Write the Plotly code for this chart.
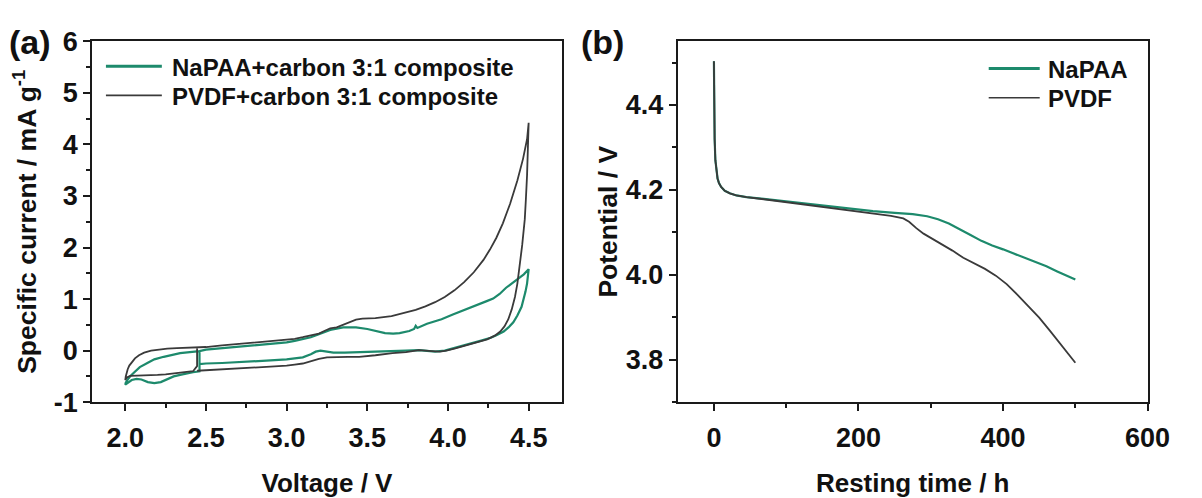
import plotly.graph_objects as go

# ---------------- Panel (a): cyclic voltammetry ----------------
V_napaa = [2.46, 2.46, 2.42, 2.38, 2.34, 2.3, 2.26, 2.22, 2.18, 2.14, 2.10, 2.07, 2.04, 2.02, 2.0,
           2.003, 2.01, 2.02, 2.035, 2.06, 2.09, 2.137, 2.18, 2.238, 2.29, 2.34, 2.4, 2.46,
           2.5, 2.6, 2.7, 2.8, 2.9, 3.0, 3.05, 3.1, 3.15, 3.2, 3.27, 3.35, 3.43, 3.5, 3.56,
           3.61, 3.66, 3.7, 3.76, 3.79, 3.80, 3.81, 3.87, 3.96, 4.03, 4.1, 4.15, 4.2, 4.24, 4.28,
           4.32, 4.36, 4.4, 4.44, 4.47, 4.5,
           4.497, 4.49, 4.48, 4.472, 4.456, 4.43, 4.405, 4.375, 4.345, 4.3, 4.265, 4.2, 4.15, 4.1,
           4.04, 3.98, 3.92, 3.86, 3.82, 3.74, 3.66, 3.55, 3.45, 3.36, 3.29, 3.25, 3.21, 3.18, 3.15,
           3.1, 3.05, 3.0, 2.9, 2.8, 2.7, 2.6, 2.5, 2.46]
I_napaa = [0.0, -0.40, -0.42, -0.44, -0.47, -0.50, -0.56, -0.61, -0.63, -0.61, -0.56, -0.55, -0.57, -0.61, -0.66,
           -0.62, -0.58, -0.54, -0.48, -0.40, -0.32, -0.24, -0.17, -0.12, -0.08, -0.05, -0.03, -0.01,
           0.02, 0.05, 0.08, 0.11, 0.13, 0.16, 0.19, 0.22, 0.26, 0.32, 0.40, 0.45, 0.45, 0.42, 0.37,
           0.34, 0.33, 0.34, 0.38, 0.42, 0.48, 0.44, 0.52, 0.61, 0.70, 0.79, 0.86, 0.92, 0.96, 1.01,
           1.10, 1.22, 1.31, 1.40, 1.48, 1.58,
           1.45, 1.30, 1.14, 1.02, 0.85, 0.68, 0.55, 0.45, 0.37, 0.30, 0.25, 0.19, 0.15, 0.11,
           0.05, 0.0, -0.02, 0.0, 0.01, 0.0, -0.01, -0.03, -0.03, -0.04, -0.04, -0.02, 0.0, -0.02, -0.07,
           -0.13, -0.15, -0.17, -0.19, -0.21, -0.22, -0.24, -0.25, -0.26]

V_pvdf = [2.445, 2.445, 2.42, 2.35, 2.3, 2.25, 2.2, 2.15, 2.1, 2.06, 2.03, 2.01, 2.0,
          2.003, 2.008, 2.015, 2.025, 2.04, 2.06, 2.085, 2.117, 2.16, 2.2, 2.26, 2.32, 2.38, 2.44,
          2.5, 2.6, 2.7, 2.8, 2.9, 3.0, 3.05, 3.1, 3.15, 3.2, 3.24, 3.27, 3.31, 3.35, 3.39, 3.43,
          3.47, 3.55, 3.65, 3.72, 3.8, 3.86, 3.92, 3.98, 4.04, 4.1, 4.16, 4.22, 4.26, 4.3, 4.34,
          4.385, 4.43, 4.465, 4.49, 4.5,
          4.498, 4.495, 4.49, 4.483, 4.476, 4.46, 4.445, 4.43, 4.415, 4.395, 4.374, 4.35, 4.324,
          4.29, 4.243, 4.19, 4.14, 4.09, 4.04, 3.99, 3.95, 3.9, 3.82, 3.74, 3.656, 3.55, 3.45,
          3.38, 3.31, 3.25, 3.2, 3.17, 3.13, 3.1, 3.05, 3.0, 2.9, 2.8, 2.7, 2.6, 2.5, 2.445]
I_pvdf = [0.06, -0.30, -0.40, -0.43, -0.45, -0.46, -0.47, -0.475, -0.48, -0.485, -0.49, -0.52, -0.57,
          -0.50, -0.43, -0.36, -0.29, -0.22, -0.15, -0.09, -0.04, 0.0, 0.02, 0.04, 0.05, 0.055, 0.06,
          0.07, 0.10, 0.13, 0.16, 0.18, 0.21, 0.23, 0.26, 0.29, 0.33, 0.39, 0.43, 0.45, 0.50, 0.56, 0.60,
          0.62, 0.63, 0.67, 0.72, 0.79, 0.86, 0.94, 1.04, 1.17, 1.33, 1.52, 1.76, 1.96, 2.19, 2.47,
          2.85, 3.3, 3.72, 4.1, 4.42,
          4.1, 3.76, 3.4, 2.95, 2.55, 2.05, 1.64, 1.3, 1.04, 0.8, 0.61, 0.47, 0.37,
          0.29, 0.22, 0.17, 0.13, 0.08, 0.04, 0.0, -0.02, -0.01, 0.01, -0.03, -0.05, -0.09, -0.12,
          -0.12, -0.12, -0.13, -0.16, -0.19, -0.23, -0.25, -0.27, -0.29, -0.31, -0.33, -0.35, -0.37, -0.385, -0.39]

# ---------------- Panel (b): resting potential ----------------
t_napaa = [0, 0.5, 1, 2, 3.5, 5, 7, 10, 15, 22, 31, 45, 69, 100, 130, 160, 190, 220, 250, 275,
           295, 310, 325, 340, 355, 370, 385, 400, 415, 430, 445, 460, 475, 490, 500]
E_napaa = [4.503, 4.38, 4.32, 4.27, 4.24, 4.227, 4.216, 4.207, 4.198, 4.192, 4.187, 4.183, 4.179,
           4.173, 4.168, 4.162, 4.155, 4.150, 4.146, 4.143, 4.138, 4.131, 4.121, 4.108, 4.094,
           4.080, 4.069, 4.060, 4.050, 4.040, 4.030, 4.020, 4.008, 3.996, 3.989]

t_pvdf = [0, 0.5, 1, 2, 3.5, 5, 7, 10, 15, 22, 31, 45, 69, 100, 130, 160, 190, 220, 245, 262,
          270, 280, 290, 300, 315, 330, 345, 360, 375, 390, 405, 420, 435, 450, 465, 480, 490, 500]
E_pvdf = [4.503, 4.38, 4.32, 4.27, 4.24, 4.227, 4.216, 4.207, 4.198, 4.192, 4.187, 4.183, 4.178,
          4.171, 4.164, 4.157, 4.150, 4.144, 4.139, 4.133, 4.125, 4.110, 4.097, 4.087, 4.073,
          4.057, 4.040, 4.027, 4.014, 3.998, 3.978, 3.953, 3.927, 3.899, 3.868, 3.835, 3.815, 3.793]

# tick labels
a_ytickvals = [-1, 0, 1, 2, 3, 4, 5, 6]
a_yticktext = ["-1", "0", "1", "2", "3", "4", "5", "6"]

GREEN = "#1d8a6c"
DARK = "#3a3a3a"
AXC = "#1a1a1a"
FONT = "Liberation Sans"
W, H = 1202, 498

fig = go.Figure()
fig.add_trace(go.Scatter(x=V_napaa, y=I_napaa, mode="lines", name="NaPAA+carbon 3:1 composite",
                         line=dict(color=GREEN, width=2.2), xaxis="x", yaxis="y", showlegend=False))
fig.add_trace(go.Scatter(x=V_pvdf, y=I_pvdf, mode="lines", name="PVDF+carbon 3:1 composite",
                         line=dict(color=DARK, width=1.8), xaxis="x", yaxis="y", showlegend=False))
fig.add_trace(go.Scatter(x=t_napaa, y=E_napaa, mode="lines", name="NaPAA",
                         line=dict(color=GREEN, width=2.2), xaxis="x2", yaxis="y2", showlegend=False))
fig.add_trace(go.Scatter(x=t_pvdf, y=E_pvdf, mode="lines", name="PVDF",
                         line=dict(color=DARK, width=1.8), xaxis="x2", yaxis="y2", showlegend=False))

tickfont = dict(family=FONT, size=27, color="#111", weight="bold")
xtitlefont = dict(family=FONT, size=26, color="#111", weight="bold")
ytitlefont = dict(family=FONT, size=26.5, color="#111", weight="bold")
common = dict(showline=True, linecolor=AXC, linewidth=2, mirror=True, ticks="outside",
              ticklen=7, tickwidth=2, tickcolor=AXC, showgrid=False, zeroline=False,
              tickfont=tickfont)

ydom = [(H - 412) / H, (H - 28) / H]
fig.update_layout(
    width=W, height=H, margin=dict(l=0, r=0, t=0, b=0),
    paper_bgcolor="white", plot_bgcolor="white",
    xaxis=dict(domain=[94 / W, 572.7 / W], range=[1.795, 4.705], tick0=2.0, dtick=0.5,
               tickformat=".1f", anchor="y", ticklabelstandoff=3,
               minor=dict(ticks="outside", ticklen=4, tickwidth=2, tickcolor=AXC, tick0=2.0, dtick=0.25),
               title=dict(text="Voltage / V", font=xtitlefont, standoff=22), **common),
    yaxis=dict(domain=ydom, range=[-1, 6], tickmode="array", tickvals=a_ytickvals,
               ticktext=a_yticktext, anchor="x",
               minor=dict(ticks="outside", ticklen=4, tickwidth=2, tickcolor=AXC,
                          tickmode="linear", tick0=-1, dtick=0.5),
               title=dict(text="Specific current / mA g<sup>-1</sup>", font=ytitlefont, standoff=9),
               **common),
    xaxis2=dict(domain=[691 / W, 1170 / W], range=[-50, 600], tick0=0, dtick=200, anchor="y2",
                ticklabelstandoff=3,
                minor=dict(ticks="outside", ticklen=4, tickwidth=2, tickcolor=AXC, tick0=0, dtick=100),
                title=dict(text="Resting time / h", font=xtitlefont, standoff=22), **common),
    yaxis2=dict(domain=ydom, range=[3.7, 4.55], tick0=3.8, dtick=0.2, tickformat=".1f",
                anchor="x2",
                minor=dict(ticks="outside", ticklen=4, tickwidth=2, tickcolor=AXC, tick0=3.7, dtick=0.1),
                title=dict(text="Potential / V", font=ytitlefont, standoff=1), **common),
)

# panel labels
for txt, px in [("(a)", 31), ("(b)", 614)]:
    fig.add_annotation(text=txt, x=px / W, y=1 - 29 / H, xref="paper", yref="paper",
                       xanchor="center", yanchor="middle", showarrow=False,
                       font=dict(family=FONT, size=34, color="#111", weight="bold"))

# legends (line swatch + text)
legend_items = [
    ("NaPAA+carbon 3:1 composite", GREEN, 3.0, 108, 165, 173, 54.5),
    ("PVDF+carbon 3:1 composite", DARK, 1.6, 108, 165, 173, 85.5),
    ("NaPAA", GREEN, 3.0, 1008, 1060, 1066, 57),
    ("PVDF", DARK, 1.6, 1008, 1060, 1066, 88),
]
for name, col, lw, x0, x1, xt, yc in legend_items:
    fig.add_shape(type="line", xref="paper", yref="paper", x0=x0 / W, x1=x1 / W,
                  y0=1 - yc / H, y1=1 - yc / H, line=dict(color=col, width=lw))
    fig.add_annotation(text=name, x=xt / W, y=1 - (yc + 1) / H, xref="paper", yref="paper",
                       xanchor="left", yanchor="middle", showarrow=False,
                       font=dict(family=FONT, size=24, color="#111", weight="bold"))

fig.write_html("out.html")
